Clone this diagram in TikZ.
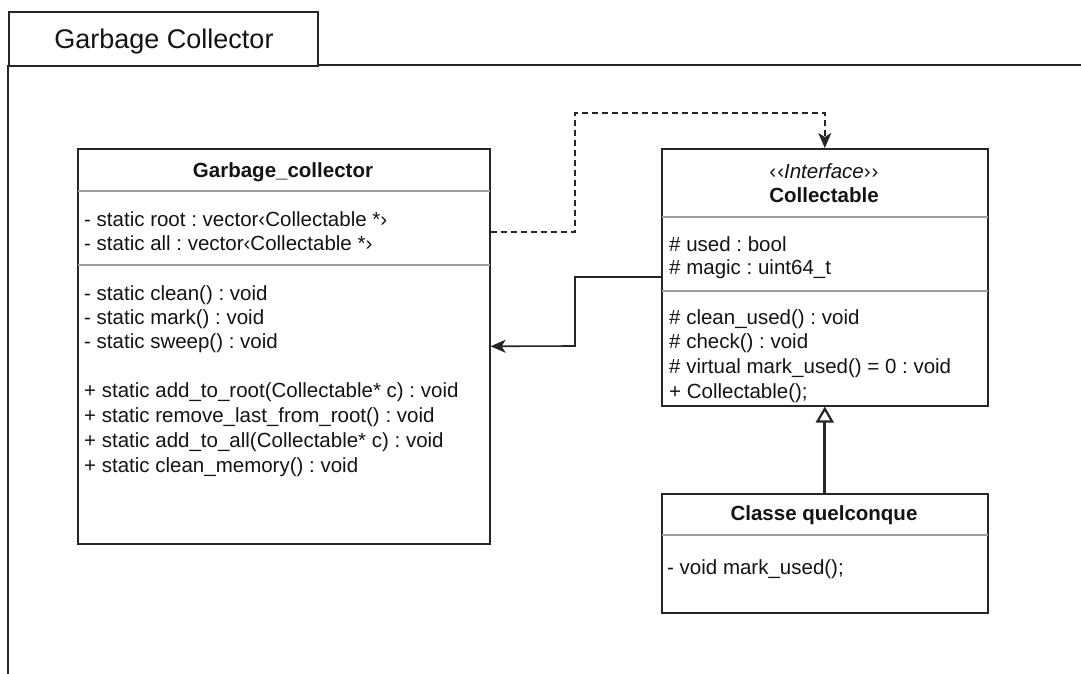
\documentclass[tikz,border=0pt]{standalone}
\usepackage{fontspec}
\setmainfont{Liberation Sans}
\usetikzlibrary{arrows.meta}
\frenchspacing

\begin{document}
\begin{tikzpicture}[x=1pt,y=-1pt,
  classbox/.style={draw=black!85, line width=1.6pt, fill=white, anchor=north west, inner sep=0pt},
  divider/.style={draw=black!38, line width=1.5pt},
  member/.style={anchor=base west, inner sep=0pt, text=black!92, font=\fontsize{20.5}{24}\selectfont},
  classname/.style={anchor=base, inner sep=0pt, text=black!92, font=\bfseries\fontsize{20.5}{24}\selectfont},
  stereo/.style={anchor=base, inner sep=0pt, text=black!92, font=\fontsize{20.5}{24}\selectfont},
  frameline/.style={draw=black!85, line width=1.6pt},
  assoc/.style={draw=black!85, line width=1.6pt, -{Stealth[length=15pt,width=13pt,inset=4pt]}},
  depend/.style={assoc, dash pattern=on 6pt off 4pt},
  realize/.style={draw=black!85, line width=3pt, -{Triangle[open,length=16pt,width=18pt,fill=white,line width=2.2pt]}}
]
\useasboundingbox (0,0) rectangle (1081,674);
\fill[white] (0,0) rectangle (1081,674);

% package frame with its name tab
\draw[frameline] (8,65) -- (8,680);
\draw[frameline] (8,65) -- (1090,65);
\node[draw=black!85, line width=1.6pt, fill=white, anchor=north west, inner sep=0pt,
      minimum width=309pt, minimum height=54pt] (tab) at (8,11) {};
\node[anchor=base, inner sep=0pt, text=black!92, font=\fontsize{27}{32}\selectfont]
      (tabname) at (164,49) {Garbage Collector};

% class Garbage_collector
\node[classbox, minimum width=412pt, minimum height=395pt] (gc) at (77,148) {};
\draw[divider] ([yshift=-43pt,xshift=1pt]gc.north west) -- ([yshift=-43pt,xshift=-1pt]gc.north east);
\draw[divider] ([yshift=-117pt,xshift=1pt]gc.north west) -- ([yshift=-117pt,xshift=-1pt]gc.north east);
\node[classname] (gcname) at (283,177) {Garbage\_collector};
\node[member] (gcA) at (84,226) {- static root : vector‹Collectable *›};
\node[member] (gcB) at (84,250) {- static all : vector‹Collectable *›};
\node[member] (gcC) at (84,300) {- static clean() : void};
\node[member] (gcD) at (84,324) {- static mark() : void};
\node[member] (gcE) at (84,348) {- static sweep() : void};
\node[member] (gcF) at (84,397) {+ static add\_to\_root(Collectable* c) : void};
\node[member] (gcG) at (84,422) {+ static remove\_last\_from\_root() : void};
\node[member] (gcH) at (84,447) {+ static add\_to\_all(Collectable* c) : void};
\node[member] (gcI) at (84,472) {+ static clean\_memory() : void};

% interface Collectable
\node[classbox, minimum width=326pt, minimum height=257pt] (coll) at (661,148) {};
\draw[divider] ([yshift=-69pt,xshift=1pt]coll.north west) -- ([yshift=-69pt,xshift=-1pt]coll.north east);
\draw[divider] ([yshift=-143pt,xshift=1pt]coll.north west) -- ([yshift=-143pt,xshift=-1pt]coll.north east);
\node[stereo] (collst) at (824,178) {‹\kern1pt‹\textit{Interface}›\kern1pt›};
\node[classname] (collname) at (824,202) {Collectable};
\node[member] (collA) at (669,251) {\# used : bool};
\node[member] (collB) at (669,274) {\# magic : uint64\_t};
\node[member] (collC) at (669,324) {\# clean\_used() : void};
\node[member] (collD) at (669,348) {\# check() : void};
\node[member] (collE) at (669,373) {\# virtual mark\_used() = 0 : void};
\node[member] (collF) at (669,398) {+ Collectable();};

% class Classe quelconque
\node[classbox, minimum width=326pt, minimum height=119pt] (cls) at (661,493) {};
\draw[divider] ([yshift=-42pt,xshift=1pt]cls.north west) -- ([yshift=-42pt,xshift=-1pt]cls.north east);
\node[classname] (clsname) at (824,520) {Classe quelconque};
\node[member] (clsA) at (667,574) {- void mark\_used();};

% connectors
\draw[depend] ([yshift=-84pt]gc.north east) -| (575,113) -| (coll.north);
\draw[assoc] ([yshift=-129pt]coll.north west) -| (575,346) -- (gc.east);
\draw[realize] (cls.north) -- (coll.south);
\end{tikzpicture}
\end{document}
